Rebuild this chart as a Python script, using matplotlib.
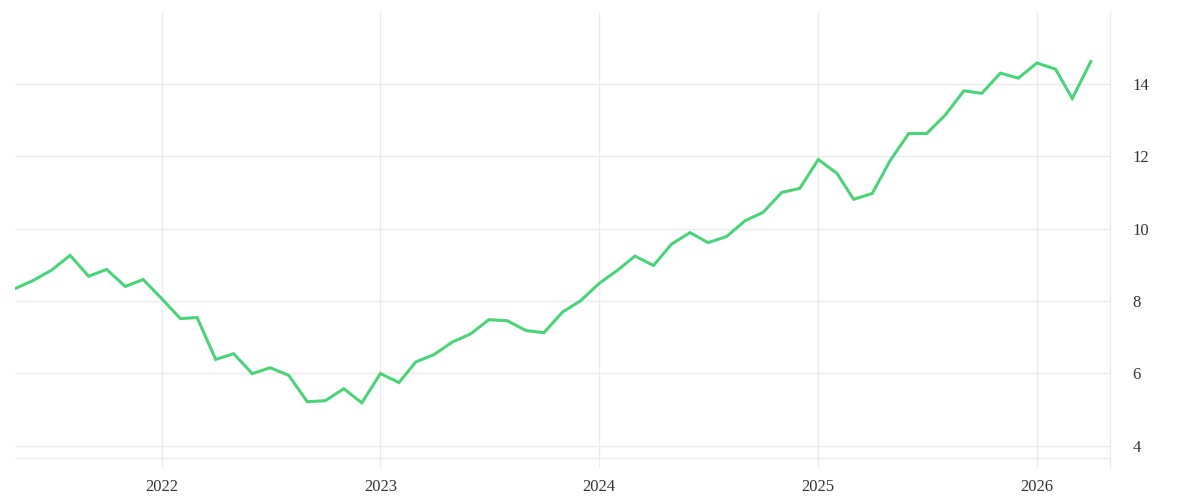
import matplotlib.pyplot as plt
import matplotlib.dates as mdates
import numpy as np
import pandas as pd

# monthly values, May 2021 .. Apr 2026
months = pd.date_range('2021-05-01', '2026-04-01', freq='MS')
values = [
    8.34, 8.57, 8.85, 9.26, 8.68, 8.87, 8.40, 8.59,                     # 2021
    8.06, 7.51, 7.54, 6.38, 6.54, 5.99, 6.15, 5.94, 5.21, 5.24, 5.57, 5.18,  # 2022
    5.99, 5.74, 6.31, 6.52, 6.86, 7.09, 7.48, 7.45, 7.18, 7.12, 7.69, 8.00,  # 2023
    8.48, 8.85, 9.24, 8.98, 9.57, 9.89, 9.61, 9.78, 10.22, 10.45, 11.00, 11.11,  # 2024
    11.91, 11.53, 10.81, 10.97, 11.88, 12.63, 12.63, 13.14, 13.81, 13.74, 14.30, 14.16,  # 2025
    14.58, 14.41, 13.60, 14.62,                                         # 2026
]
year_ticks = pd.to_datetime(['2022-01-01', '2023-01-01', '2024-01-01', '2025-01-01', '2026-01-01'])
y_ticks = [4, 6, 8, 10, 12, 14]

plt.rcParams['font.family'] = ['Liberation Serif', 'DejaVu Serif']
grid_col = '#ebebeb'

fig = plt.figure(figsize=(12, 5), dpi=100)
ax = fig.add_axes([0.0125, 0.064, 0.9125, 0.912])

ax.plot(months, values, color='#4cd37a', linewidth=2.2, solid_joinstyle='miter')

ax.set_xlim(months[0], pd.Timestamp('2026-05-03'))
ax.set_ylim(3.378, 15.99)

ax.set_xticks(year_ticks)
ax.xaxis.set_major_formatter(mdates.DateFormatter('%Y'))
ax.set_yticks(y_ticks)
ax.yaxis.tick_right()

ax.grid(True, color=grid_col, linewidth=1)
ax.axhline(3.646, color=grid_col, linewidth=1, zorder=1)
ax.tick_params(axis='both', length=0, labelsize=12, colors='#333333')
ax.tick_params(axis='y', pad=16)
ax.tick_params(axis='x', pad=8)

for side in ['top', 'left', 'bottom']:
    ax.spines[side].set_visible(False)
ax.spines['right'].set_color(grid_col)
ax.spines['right'].set_linewidth(1)

fig.savefig('out.png', dpi=100)
